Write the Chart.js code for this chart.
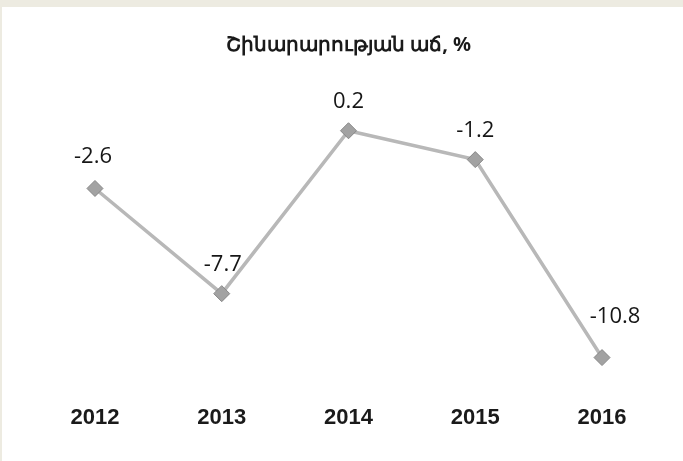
<!DOCTYPE html>
<html>
<head>
<meta charset="utf-8">
<script src="https://cdn.jsdelivr.net/npm/chart.js@4"></script>
<style>
  html,body{margin:0;padding:0;background:#edebe1;}
  #wrap{position:absolute;left:2px;top:7px;width:681px;height:454px;background:#fff;}
</style>
</head>
<body>
<div id="wrap"><canvas id="growthChart" width="681" height="454"></canvas></div>
<script>
const titleText='Շինարարության աճ, %';
const years=['2012','2013','2014','2015','2016'];
const growth=[-2.6,-7.7,0.2,-1.2,-10.8];
const labelTexts=['-2.6','-7.7','0.2','-1.2','-10.8'];

// label nudges per point (dx, dy) in px
const labelNudge=[[-2,-32],[1,-29],[0,-29],[0,-29],[13,-41]];

const pointLabels={
  id:'pointLabels',
  afterDatasetsDraw(chart){
    const ctx=chart.ctx; const meta=chart.getDatasetMeta(0);
    ctx.save();
    ctx.font='500 22px "Open Sans", sans-serif'; ctx.fillStyle='#161616';
    ctx.textAlign='center'; ctx.textBaseline='middle';
    meta.data.forEach((pt,i)=>{ const n=labelNudge[i]; ctx.fillText(labelTexts[i], pt.x+n[0], pt.y+n[1]); });
    ctx.restore();
  }
};

new Chart(document.getElementById('growthChart'),{
  type:'line',
  data:{labels:years,datasets:[{
    data:growth,
    borderColor:'#b8b8b8',borderWidth:3.5,
    pointStyle:'rectRot',pointRadius:8,pointHoverRadius:8,
    pointBackgroundColor:'#a2a2a2',pointBorderColor:'#878787',pointBorderWidth:1
  }]},
  options:{
    responsive:false,animation:false,
    layout:{padding:{left:29.6,right:17.6,top:0,bottom:7.5}},
    plugins:{
      legend:{display:false},tooltip:{enabled:false},
      title:{display:true,text:titleText,color:'#1a1a1a',
        font:{family:'"Noto Sans", sans-serif',size:20,weight:'bold',lineHeight:1.2},
        padding:{top:26,bottom:16}}
    },
    scales:{
      x:{offset:true,grid:{display:false,drawTicks:false},border:{display:false},
        ticks:{color:'#1a1a1a',padding:22.4,font:{family:'"Liberation Sans", sans-serif',size:22,weight:'bold',lineHeight:1.2}}},
      y:{display:false,min:-12,max:3}
    }
  },
  plugins:[pointLabels]
});
</script>
</body>
</html>
